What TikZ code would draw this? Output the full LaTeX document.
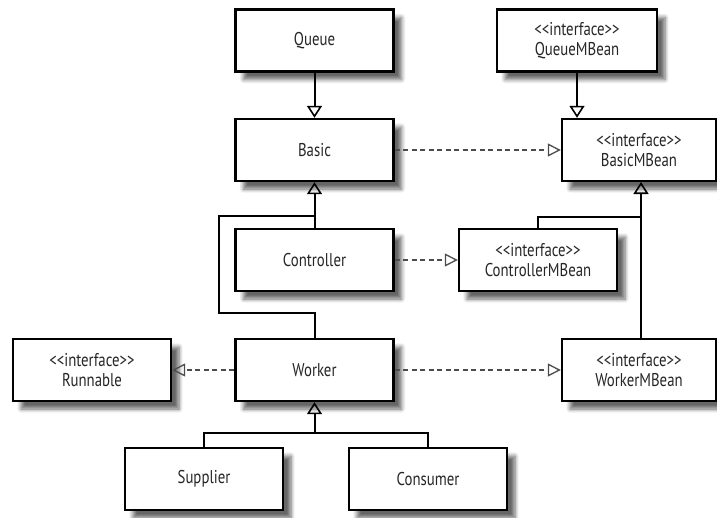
\documentclass[tikz,border=0pt]{standalone}
\usepackage{fontspec}
\setmainfont{PT Sans}[FakeStretch=0.8]
\usetikzlibrary{arrows.meta,shadows.blur}
\newcommand\intf{<\kern0pt<interface>\kern0pt>}
\tikzset{
  cls/.style={draw=black, line width=2.4pt, fill=white, minimum width=158pt, minimum height=62pt,
    inner sep=0pt, align=center, font=\fontsize{18.5}{20}\selectfont, text=black!85,
    blur shadow={shadow xshift=8pt, shadow yshift=-8pt, shadow blur steps=6, shadow blur radius=4pt, shadow opacity=60}},
  inh/.style={draw=black, line width=2pt, -{Triangle[open, length=12pt, width=15pt, line width=1.6pt]}},
  plain/.style={draw=black, line width=2pt},
  real/.style={draw=black!70, line width=1.3pt, dash pattern=on 5pt off 3.5pt,
    -{Triangle[open, length=13pt, width=13pt, line width=1.3pt]}}
}
\begin{document}
\begin{tikzpicture}[x=1pt,y=-1pt]
\useasboundingbox (0,0) rectangle (717,517);
\node[cls] (queue) at (314.5,40.5) {Queue};
\node[cls] (basic) at (314.5,150) {Basic};
\node[cls] (controller) at (314.5,260) {Controller};
\node[cls] (worker) at (314.5,370) {Worker};
\node[cls] (supplier) at (204,479) {Supplier};
\node[cls] (consumer) at (428,479) {Consumer};
\node[cls, minimum width=160pt] (qmb) at (577,40.5) {\intf\\QueueMBean};
\node[cls, minimum width=154pt] (bmb) at (639,150) {\intf\\BasicMBean};
\node[cls] (cmb) at (538,260) {\intf\\ControllerMBean};
\node[cls, minimum width=154pt] (wmb) at (639,370) {\intf\\WorkerMBean};
\node[cls] (run) at (92,370) {\intf\\Runnable};
% inheritance
\draw[inh] (queue) -- (basic);
\draw[inh] (qmb.south) -- (qmb.south |- bmb.north);
\draw[inh] (controller) -- (basic);
\coordinate (w1) at (314.5,313);
\coordinate (w2) at (219,313);
\coordinate (w3) at (219,216);
\coordinate (w4) at (314.5,216);
\draw[plain] (worker.north) -- (w1) -- (w2) -- (w3) -- (w4);
\coordinate (bm) at (641,182);
\coordinate (c1) at (538,217);
\coordinate (c2) at (641,217);
\draw[inh] (wmb.north -| bm) -- (bm);
\draw[plain] (cmb.north) -- (c1) -- (c2);
\coordinate (s1) at (204,433);
\coordinate (s2) at (428,433);
\coordinate (s3) at (314.5,433);
\draw[plain] (supplier.north) -- (s1) -- (s2) -- (consumer.north);
\draw[inh] (s3) -- (worker.south);
% realization
\draw[real] (basic) -- (bmb);
\draw[real] (controller) -- (cmb);
\draw[real] (worker) -- (wmb);
\draw[real] (worker) -- (run);
\end{tikzpicture}
\end{document}
